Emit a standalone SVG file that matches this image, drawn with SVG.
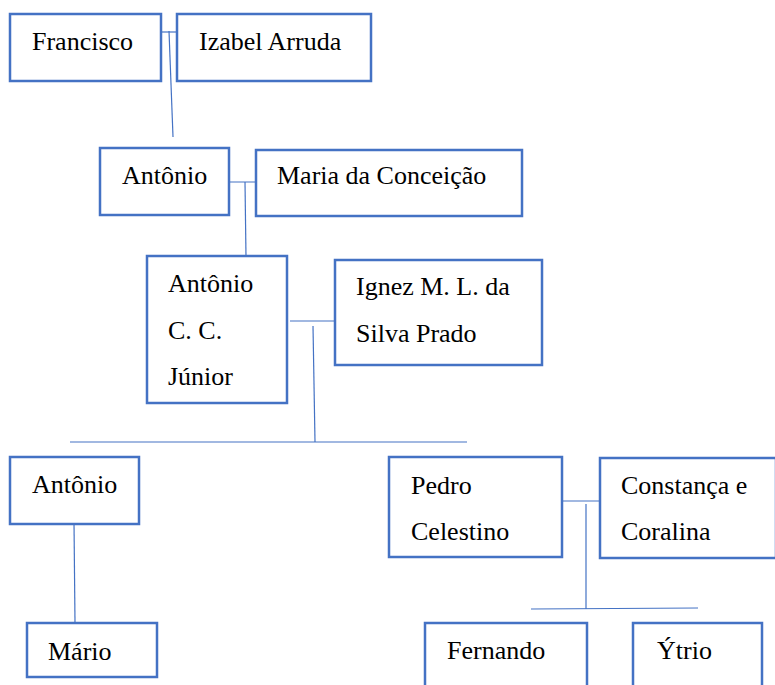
<svg xmlns="http://www.w3.org/2000/svg" width="775" height="685" viewBox="0 0 775 685">
<style>
.box{fill:#fff;stroke:#4472C4;stroke-width:2.5}
.ln{fill:none;stroke:#4472C4;stroke-width:1.2}
text{font-family:"Liberation Serif","Times New Roman",serif;font-size:26px;fill:#000}
</style>
<rect width="775" height="685" fill="#fff"/>
<g id="connectors">
<line class="ln" x1="161" y1="32" x2="183" y2="32"/>
<line class="ln" x1="169" y1="31" x2="173" y2="137"/>
<line class="ln" x1="223" y1="182" x2="262" y2="182"/>
<line class="ln" x1="245" y1="182" x2="246" y2="257"/>
<line class="ln" x1="290" y1="321" x2="340" y2="321"/>
<line class="ln" x1="313" y1="326" x2="315" y2="442"/>
<line class="ln" x1="70" y1="442" x2="467" y2="442"/>
<line class="ln" x1="74" y1="522" x2="75" y2="623"/>
<line class="ln" x1="559" y1="501" x2="600" y2="501"/>
<line class="ln" x1="586" y1="504" x2="586" y2="609"/>
<line class="ln" x1="531" y1="609" x2="698" y2="608"/>
</g>
<g id="francisco"><rect class="box" x="10" y="14" width="151" height="67"/><text x="32" y="50">Francisco</text></g>
<g id="izabel"><rect class="box" x="177" y="14" width="194" height="67"/><text x="199" y="50">Izabel Arruda</text></g>
<g id="antonio1"><rect class="box" x="100" y="148" width="129" height="67"/><text x="122" y="184">Antônio</text></g>
<g id="maria"><rect class="box" x="256" y="150" width="266" height="66"/><text x="277" y="184">Maria da Conceição</text></g>
<g id="antonio2"><rect class="box" x="147" y="256" width="140" height="147"/><text x="168" y="292">Antônio</text><text x="168" y="339">C. C.</text><text x="168" y="385">Júnior</text></g>
<g id="ignez"><rect class="box" x="335" y="260" width="207" height="105"/><text x="356" y="295">Ignez M. L. da</text><text x="356" y="342">Silva Prado</text></g>
<g id="antonio3"><rect class="box" x="10" y="457" width="129" height="67"/><text x="32" y="493">Antônio</text></g>
<g id="mario"><rect class="box" x="27" y="623" width="130" height="54"/><text x="48" y="660">Mário</text></g>
<g id="pedro"><rect class="box" x="389" y="457" width="173" height="100"/><text x="411" y="494">Pedro</text><text x="411" y="540">Celestino</text></g>
<g id="constanca"><rect class="box" x="600" y="458" width="176" height="100"/><text x="621" y="494">Constança e</text><text x="621" y="540">Coralina</text></g>
<g id="fernando"><rect class="box" x="425" y="623" width="162" height="80"/><text x="447" y="659">Fernando</text></g>
<g id="ytrio"><rect class="box" x="633" y="623" width="129" height="80"/><text x="657" y="659">Ýtrio</text></g>
</svg>
